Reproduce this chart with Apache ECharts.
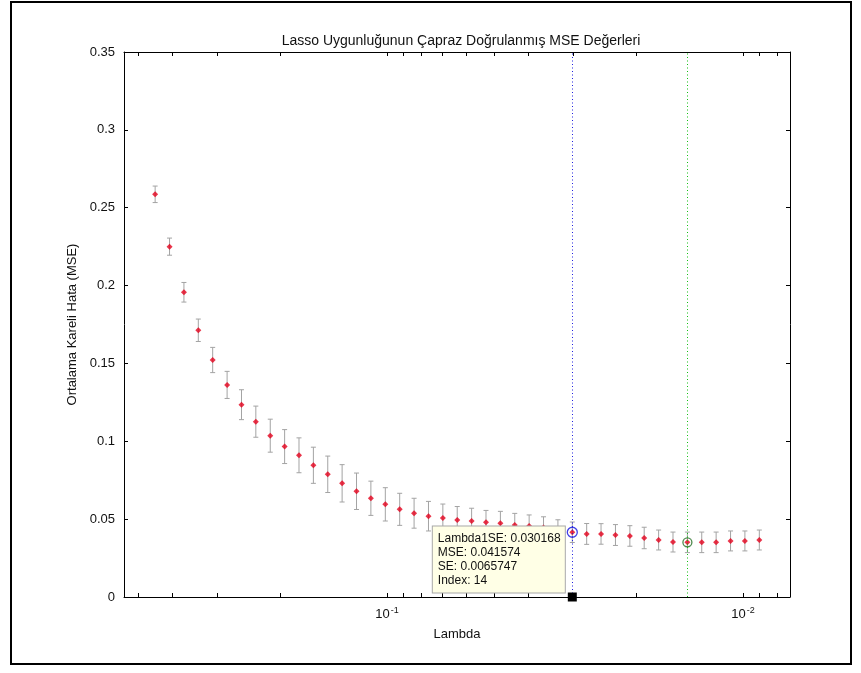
<!DOCTYPE html>
<html>
<head>
<meta charset="utf-8">
<script src="https://cdn.jsdelivr.net/npm/echarts@6/dist/echarts.min.js"></script>
<style>html,body{margin:0;padding:0;background:#fff;}#chart{width:861px;height:673px;}</style>
</head>
<body>
<div id="chart"></div>
<script>
// Lambda values (left to right on the reversed log axis)
const lambdas = [0.4480, 0.4082, 0.3719, 0.3389, 0.3088, 0.2813, 0.2563, 0.2336, 0.2128, 0.1939,
  0.1767, 0.1610, 0.1467, 0.1337, 0.1218, 0.1110, 0.1011, 0.09213, 0.08394, 0.07648,
  0.06969, 0.06350, 0.05786, 0.05272, 0.04803, 0.04377, 0.03988, 0.03634, 0.03311, 0.030168,
  0.02749, 0.02505, 0.02282, 0.02079, 0.01895, 0.01726, 0.01573, 0.01433, 0.01306, 0.01190,
  0.01084, 0.00988, 0.00900];
// Cross-validated MSE
const mse = [0.2586, 0.2250, 0.1957, 0.1713, 0.1522, 0.1362, 0.1235, 0.1126, 0.1036, 0.0966,
  0.0910, 0.0846, 0.0788, 0.0730, 0.0679, 0.0634, 0.0595, 0.0563, 0.0538, 0.0519,
  0.0507, 0.0494, 0.0488, 0.0480, 0.0473, 0.0462, 0.0456, 0.0447, 0.0434, 0.041574,
  0.0405, 0.0405, 0.0398, 0.0392, 0.0379, 0.0366, 0.0353, 0.0351, 0.0351, 0.0351,
  0.0360, 0.0360, 0.0366];
// Standard error
const se = [0.0053, 0.0055, 0.0063, 0.0072, 0.0081, 0.0087, 0.0096, 0.0100, 0.0106, 0.0109,
  0.0112, 0.0116, 0.0117, 0.0120, 0.0117, 0.0110, 0.0107, 0.0103, 0.0096, 0.0095,
  0.0090, 0.0087, 0.0082, 0.0076, 0.0077, 0.0075, 0.0071, 0.0068, 0.0062, 0.0065747,
  0.0067, 0.0066, 0.0067, 0.0066, 0.0069, 0.0064, 0.0064, 0.0066, 0.0066, 0.0066,
  0.0064, 0.0064, 0.0064];
const lambda1SE = 0.030168, mse1SE = 0.041574, se1SE = 0.0065747, index1SE = 14;
const lambdaMin = 0.01433, mseMin = 0.0351;
const xMajorTicks = [0.1, 0.01];
const xMinorTicks = [0.5, 0.4, 0.3, 0.2, 0.09, 0.08, 0.07, 0.06, 0.05, 0.04, 0.03, 0.02, 0.009, 0.008];
const xMin = 0.00738, xMax = 0.548;
const yMin = 0, yMax = 0.35, yStep = 0.05;
const titleText = 'Lasso Uygunluğunun Çapraz Doğrulanmış MSE Değerleri';
const xName = 'Lambda';
const yName = 'Ortalama Kareli Hata (MSE)';

const FONT = 'Liberation Sans, Arial, Helvetica, sans-serif';
const allXTicks = xMajorTicks.concat(xMinorTicks);

const chart = echarts.init(document.getElementById('chart'), null, {renderer: 'canvas'});

const pts = lambdas.map((l, i) => [l, mse[i]]);
const bars = lambdas.map((l, i) => [l, mse[i] - se[i], mse[i] + se[i]]);

const xBase = {
  type: 'log', logBase: 10, min: xMin, max: xMax, inverse: true,
  splitLine: {show: false},
  axisLine: {show: true, onZero: false, lineStyle: {color: '#000', width: 1}},
  axisTick: {show: true, inside: true, length: 4, customValues: allXTicks, lineStyle: {color: '#000'}},
  minorTick: {show: false}
};

function vline(value, color, dash) {
  return {
    type: 'scatter', xAxisIndex: 0, yAxisIndex: 0, data: [], z: 1, silent: true,
    markLine: {
      silent: true, symbol: 'none', animation: false, precision: 8,
      label: {show: false},
      lineStyle: {color: color, type: dash, width: 1, opacity: 1},
      emphasis: {disabled: true},
      data: [{xAxis: value}]
    }
  };
}

chart.setOption({
  backgroundColor: '#ffffff',
  animation: false,
  title: {
    text: titleText, left: 456, top: 29, textAlign: 'center',
    textStyle: {fontFamily: FONT, fontSize: 14, fontWeight: 'normal', color: '#111'}
  },
  grid: {left: 124, right: 71, top: 52, bottom: 76, containLabel: false},
  xAxis: [
    Object.assign({}, xBase, {
      position: 'bottom',
      name: xName, nameLocation: 'middle', nameGap: 29,
      nameTextStyle: {fontFamily: FONT, fontSize: 13, color: '#111'},
      axisLabel: {
        show: true, margin: 9, customValues: xMajorTicks,
        fontFamily: FONT, fontSize: 13, color: '#111',
        formatter: function (v) { return '{b|10}{s|' + Math.round(Math.log10(v)) + '}'; },
        rich: {
          b: {fontFamily: FONT, fontSize: 13, color: '#111', verticalAlign: 'bottom', lineHeight: 15},
          s: {fontFamily: FONT, fontSize: 9, color: '#111', verticalAlign: 'top', padding: [0, 0, 8, 1], lineHeight: 10}
        }
      }
    }),
    Object.assign({}, xBase, {position: 'top', axisLabel: {show: false}})
  ],
  yAxis: [
    {
      type: 'value', min: yMin, max: yMax, interval: yStep, position: 'left',
      name: yName, nameLocation: 'middle', nameGap: 40, nameRotate: 90,
      nameTextStyle: {fontFamily: FONT, fontSize: 13, color: '#111'},
      splitLine: {show: false},
      axisLine: {show: true, onZero: false, lineStyle: {color: '#000'}},
      axisTick: {show: true, inside: true, length: 4, lineStyle: {color: '#000'}},
      axisLabel: {margin: 9, fontFamily: FONT, fontSize: 13, color: '#111'}
    },
    {
      type: 'value', min: yMin, max: yMax, interval: yStep, position: 'right',
      splitLine: {show: false},
      axisLine: {show: true, onZero: false, lineStyle: {color: '#000'}},
      axisTick: {show: true, inside: true, length: 4, lineStyle: {color: '#000'}},
      axisLabel: {show: false}
    }
  ],
  series: [
    vline(lambda1SE, '#2020e0', [1, 2.5]),
    vline(lambdaMin, '#10c010', [1, 2.5]),
    {
      type: 'custom', name: 'errorbars', xAxisIndex: 0, yAxisIndex: 0,
      data: bars, z: 2, silent: true,
      renderItem: function (params, api) {
        const x = api.value(0);
        const lo = api.coord([x, api.value(1)]);
        const hi = api.coord([x, api.value(2)]);
        const c = 2.5;
        const st = {stroke: '#a3a3a3', lineWidth: 1};
        return {
          type: 'group',
          children: [
            {type: 'line', shape: {x1: lo[0], y1: lo[1], x2: hi[0], y2: hi[1]}, style: st},
            {type: 'line', shape: {x1: lo[0] - c, y1: lo[1], x2: lo[0] + c, y2: lo[1]}, style: st},
            {type: 'line', shape: {x1: hi[0] - c, y1: hi[1], x2: hi[0] + c, y2: hi[1]}, style: st}
          ]
        };
      }
    },
    {
      type: 'scatter', name: 'MSE', xAxisIndex: 0, yAxisIndex: 0,
      data: pts, symbol: 'diamond', symbolSize: 6, z: 3,
      itemStyle: {color: '#e3001b'},
      markPoint: {
        silent: true, animation: false,
        data: [{
          coord: [lambda1SE, 0], symbol: 'rect', symbolSize: 9,
          itemStyle: {color: '#000'},
          label: {
            show: true, position: [-135, -66], align: 'left', verticalAlign: 'top',
            formatter: 'Lambda1SE: ' + lambda1SE + '\nMSE: ' + mse1SE + '\nSE: ' + se1SE + '\nIndex: ' + index1SE,
            fontFamily: FONT, fontSize: 12, color: '#111', lineHeight: 14,
            backgroundColor: '#ffffe6', borderColor: '#a8a8a8', borderWidth: 1,
            padding: [5, 6, 5, 5], width: 121
          }
        }]
      }
    },
    {
      type: 'scatter', name: '1SE', xAxisIndex: 0, yAxisIndex: 0,
      data: [[lambda1SE, mse1SE]], symbol: 'circle', symbolSize: 10, z: 4,
      itemStyle: {color: 'rgba(0,0,0,0)', borderColor: '#1010e0', borderWidth: 1.3}
    },
    {
      type: 'scatter', name: 'min', xAxisIndex: 0, yAxisIndex: 0,
      data: [[lambdaMin, mseMin]], symbol: 'circle', symbolSize: 9, z: 4,
      itemStyle: {color: 'rgba(0,0,0,0)', borderColor: '#1f6b1f', borderWidth: 1.3}
    }
  ],
  graphic: [
    {type: 'rect', shape: {x: 11, y: 2, width: 840, height: 662}, style: {fill: 'none', stroke: '#000', lineWidth: 2}, silent: true, z: 100}
  ]
});
</script>
</body>
</html>
